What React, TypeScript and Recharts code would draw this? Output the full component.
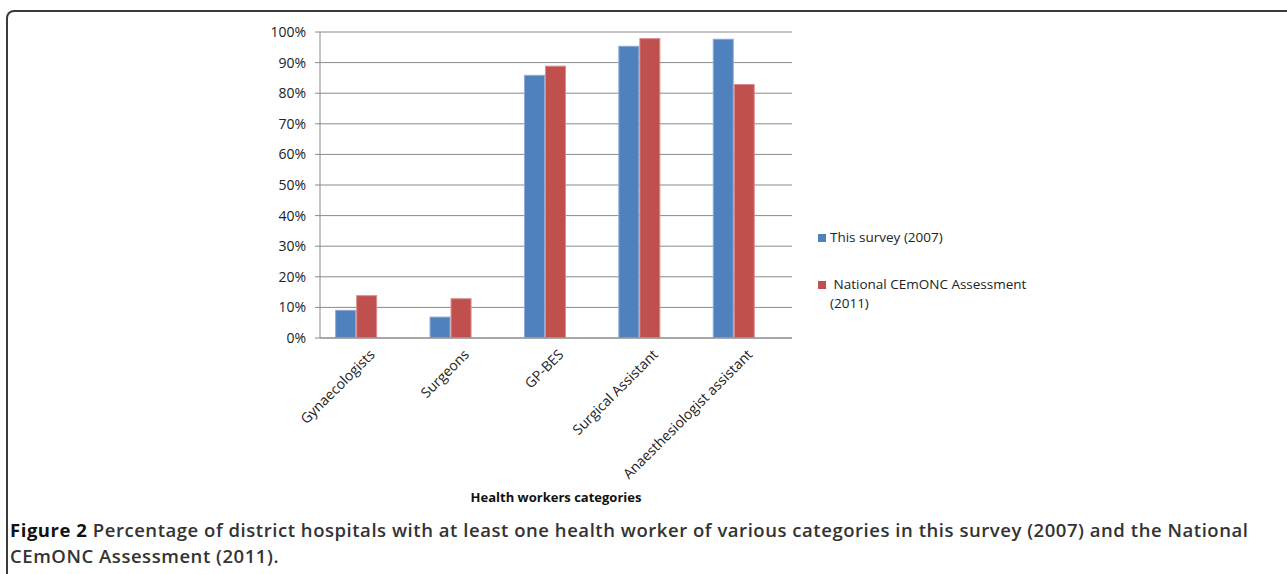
import React from "react";
import { BarChart, Bar, XAxis, YAxis, CartesianGrid } from "recharts";

const categories = ["Gynaecologists", "Surgeons", "GP-BES", "Surgical Assistant", "Anaesthesiologist assistant"];
const survey2007 = [9.2, 7, 86, 95.5, 97.8];
const national2011 = [14, 13, 89, 98, 83];
const yTicks = [0, 10, 20, 30, 40, 50, 60, 70, 80, 90, 100];
const seriesNames = ["This survey (2007)", " National CEmONC Assessment\n(2011)"];
const captionBold = "Figure 2";
const captionLine1 = " Percentage of district hospitals with at least one health worker of various categories in this survey (2007) and the National";
const captionLine2 = "CEmONC Assessment (2011).";

const data = categories.map((c, i) => ({ name: c, a: survey2007[i], b: national2011[i] }));

const FONT = "'Open Sans', 'DejaVu Sans', sans-serif";
const BLUE = "#4F81BD";
const RED = "#C0504D";
const BAR_SHIFT = -11;

const XTick = (props: any) => {
  const { x, y, payload } = props;
  return (
    <g transform={`translate(${x + 5},${y + 6})`}>
      <text
        transform="rotate(-45)"
        textAnchor="end"
        dy="0.35em"
        fontSize={14}
        fontFamily={FONT}
        fill="#222"
      >
        {payload.value}
      </text>
    </g>
  );
};

const ShiftedBar = (props: any) => {
  const { x, y, width, height, fill, edge } = props;
  if (!height || height <= 0) return null;
  return (
    <rect
      x={x + BAR_SHIFT + 0.5}
      y={y + 0.5}
      width={width - 1}
      height={height - 1}
      fill={fill}
      stroke={edge}
      strokeWidth={1}
    />
  );
};

const LegendBox = () => (
  <div
    style={{
      position: "absolute",
      left: 818,
      top: 228,
      fontFamily: FONT,
      fontSize: 13.5,
      color: "#222",
      lineHeight: "19px",
    }}
  >
    <div style={{ display: "flex", alignItems: "center", height: 19 }}>
      <span style={{ display: "inline-block", width: 8, height: 8, background: BLUE, marginRight: 4 }} />
      <span>{seriesNames[0]}</span>
    </div>
    <div style={{ height: 28 }} />
    <div style={{ display: "flex", alignItems: "flex-start" }}>
      <span style={{ display: "inline-block", width: 8, height: 8, background: RED, marginRight: 4, marginTop: 6 }} />
      <span style={{ whiteSpace: "pre" }}>{seriesNames[1]}</span>
    </div>
  </div>
);

export default function App() {
  return (
    <div style={{ position: "absolute", left: 0, top: 0, width: 1287, height: 574, background: "#fff", overflow: "hidden" }}>
      <div
        style={{
          position: "absolute",
          left: 6,
          top: 10,
          width: 1290,
          height: 620,
          borderTop: "2px solid #3a3a3a",
          borderLeft: "2px solid #3a3a3a",
          borderRight: "2px solid #3a3a3a",
          borderTopLeftRadius: 8,
          borderTopRightRadius: 8,
          boxSizing: "border-box",
        }}
      />
      <div style={{ position: "absolute", left: 0, top: 0 }}>
        <BarChart
          width={1287}
          height={520}
          data={data}
          margin={{ top: 32, right: 495, left: 260, bottom: 0 }}
          barCategoryGap="27.7%"
          barGap={0}
        >
          <CartesianGrid vertical={false} stroke="#8a8a8a" strokeWidth={1} />
          <XAxis
            dataKey="name"
            height={182}
            tick={<XTick />}
            tickLine={false}
            axisLine={{ stroke: "#8a8a8a" }}
            interval={0}
            label={{
              value: "Health workers categories",
              position: "insideBottom",
              offset: 18,
              style: { fontFamily: FONT, fontSize: 13, fontWeight: 700, fill: "#111" },
            }}
          />
          <YAxis
            width={60}
            domain={[0, 100]}
            ticks={yTicks}
            tickFormatter={(v: number) => `${v}%`}
            tick={{ fontFamily: FONT, fontSize: 14, fill: "#222", dx: -7 }}
            tickLine={{ stroke: "#8a8a8a" }}
            tickSize={5}
            axisLine={{ stroke: "#8a8a8a" }}
            interval={0}
          />
          <Bar
            dataKey="a"
            name={seriesNames[0]}
            fill={BLUE}
            shape={(p: any) => <ShiftedBar {...p} edge="#8eaad3" />}
            isAnimationActive={false}
          />
          <Bar
            dataKey="b"
            name={seriesNames[1]}
            fill={RED}
            shape={(p: any) => <ShiftedBar {...p} edge="#d68e8c" />}
            isAnimationActive={false}
          />
        </BarChart>
      </div>
      <LegendBox />
      <div
        style={{
          position: "absolute",
          left: 10,
          top: 517,
          width: 1275,
          fontFamily: FONT,
          fontSize: 18.5,
          letterSpacing: 0.54,
          fontWeight: 600,
          color: "#333",
          lineHeight: "26px",
          whiteSpace: "nowrap",
        }}
      >
        <div>
          <span style={{ fontWeight: 700, color: "#111" }}>{captionBold}</span>
          {captionLine1}
        </div>
        <div>{captionLine2}</div>
      </div>
    </div>
  );
}
